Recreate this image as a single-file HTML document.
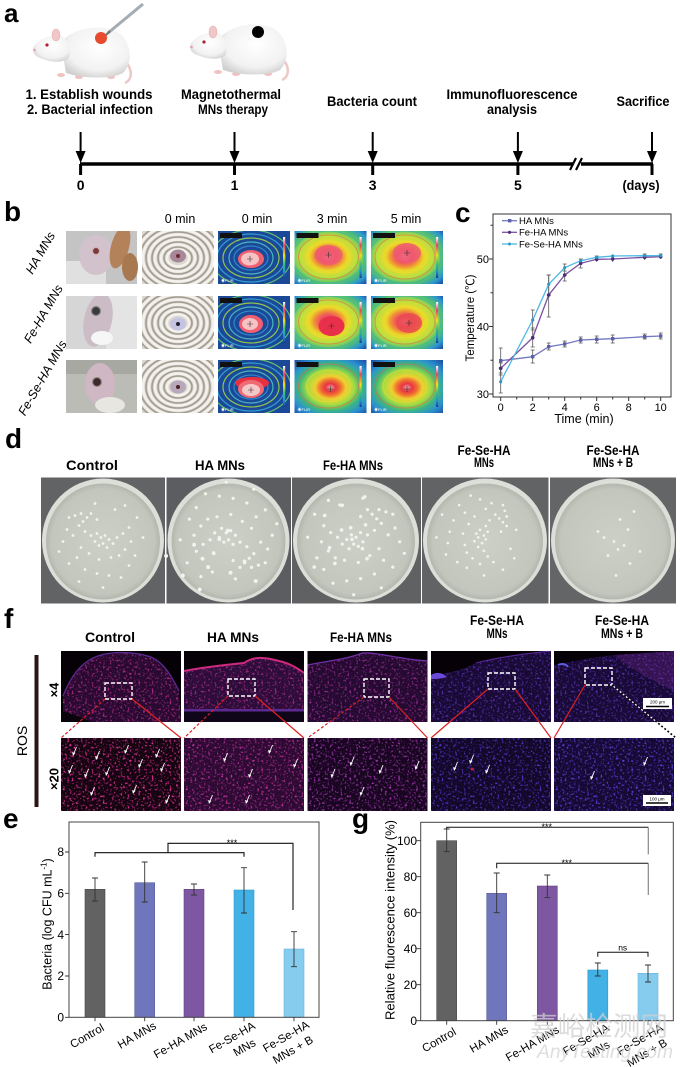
<!DOCTYPE html>
<html><head><meta charset="utf-8"><style>
html,body{margin:0;padding:0;background:#fff;}
svg{display:block;}
text{font-family:"Liberation Sans",Arial,"Noto Sans CJK SC",sans-serif;fill:#000;}
.n{font-weight:bold;font-size:14px;}
.L{font-weight:bold;}
</style></head><body>
<svg width="680" height="1067" viewBox="0 0 680 1067" xmlns="http://www.w3.org/2000/svg">
<defs>
<radialGradient id="ratg" cx="0.55" cy="0.4" r="0.65"><stop offset="0" stop-color="#ffffff"/><stop offset="0.7" stop-color="#f2f2f2"/><stop offset="1" stop-color="#cfcfcf"/></radialGradient>
<radialGradient id="hotA" cx="0.47" cy="0.48" r="0.72">
<stop offset="0" stop-color="#f6a4b2"/><stop offset="0.15" stop-color="#ee4a66"/><stop offset="0.26" stop-color="#f0883a"/><stop offset="0.37" stop-color="#ecd828"/><stop offset="0.55" stop-color="#b8e040"/><stop offset="0.72" stop-color="#52c070"/><stop offset="0.88" stop-color="#2c96d0"/><stop offset="1" stop-color="#1e52a8"/></radialGradient>
<radialGradient id="hotB" cx="0.5" cy="0.52" r="0.72">
<stop offset="0" stop-color="#f3a8a8"/><stop offset="0.1" stop-color="#e83444"/><stop offset="0.2" stop-color="#f07030"/><stop offset="0.3" stop-color="#f0d030"/><stop offset="0.45" stop-color="#a8dc40"/><stop offset="0.6" stop-color="#40b878"/><stop offset="0.78" stop-color="#2a90d0"/><stop offset="1" stop-color="#1c4aa0"/></radialGradient>
<linearGradient id="cbar" x1="0" y1="0" x2="0" y2="1"><stop offset="0" stop-color="#fff"/><stop offset="0.2" stop-color="#e84060"/><stop offset="0.45" stop-color="#f0e020"/><stop offset="0.65" stop-color="#40c070"/><stop offset="0.85" stop-color="#2090d0"/><stop offset="1" stop-color="#1a3a90"/></linearGradient>
<radialGradient id="plate" cx="0.5" cy="0.5" r="0.5"><stop offset="0" stop-color="#cdd0c6"/><stop offset="0.9" stop-color="#c3c6bc"/><stop offset="1" stop-color="#b4b7ae"/></radialGradient>
<filter id="spk" x="0" y="0" width="1" height="1">
<feTurbulence type="fractalNoise" baseFrequency="0.45" numOctaves="2" seed="4" result="nz"/>
<feColorMatrix in="nz" type="matrix" values="0 0 0 0 0  0 0 0 0 0  0 0 0 0 0  4 0 0 0 -2.15" result="al"/>
<feComposite in="SourceGraphic" in2="al" operator="in"/>
</filter>
<clipPath id="c4"><rect width="120" height="71"/></clipPath>
<clipPath id="c20"><rect width="120" height="73"/></clipPath>
<clipPath id="cth"><rect width="72" height="53"/></clipPath>
<g id="rat">
<path d="M86,32 C100,40 101,54 92,58" fill="none" stroke="#edc8c4" stroke-width="2.5"/>
<ellipse cx="28" cy="50" rx="4" ry="2" fill="#f0c2c2"/><ellipse cx="46" cy="52" rx="4" ry="2" fill="#f0c2c2"/><ellipse cx="78" cy="52" rx="4" ry="2" fill="#f0c2c2"/>
<path d="M28,18 C40,2 70,-2 86,8 C99,18 100,38 90,48 C80,54 50,54 33,48 Z" fill="url(#ratg)"/>
<path d="M0,24 C2,16 14,10 26,10 C34,12 38,22 36,32 C32,38 20,38 10,34 C4,32 0,30 0,24 Z" fill="url(#ratg)"/>
<ellipse cx="23" cy="10" rx="4" ry="6" fill="#f2c6c6" stroke="#e4b0b0" stroke-width="0.6"/>
<circle cx="14" cy="20" r="1.6" fill="#b02030"/>
<circle cx="1.5" cy="25" r="1.3" fill="#e8a0a8"/>
</g>
<g id="dA" fill="#f3f3ee">
<circle cx="-32" cy="-22" r="1.4"/><circle cx="-26" cy="-24" r="1.4"/><circle cx="-20" cy="-26" r="1.4"/><circle cx="-14" cy="-22" r="1.4"/><circle cx="-18" cy="-18" r="1.4"/><circle cx="-22" cy="-14" r="1.4"/><circle cx="-10" cy="-26" r="1.4"/><circle cx="-4" cy="-20" r="1.4"/><circle cx="-34" cy="-10" r="1.4"/><circle cx="-28" cy="-4" r="1.4"/><circle cx="-16" cy="-8" r="1.4"/><circle cx="-10" cy="-4" r="1.4"/><circle cx="-4" cy="-6" r="1.4"/><circle cx="0" cy="-2" r="1.4"/><circle cx="4" cy="-4" r="1.4"/><circle cx="8" cy="0" r="1.4"/><circle cx="-6" cy="2" r="1.4"/><circle cx="-2" cy="6" r="1.4"/><circle cx="2" cy="4" r="1.4"/><circle cx="6" cy="8" r="1.4"/><circle cx="12" cy="4" r="1.4"/><circle cx="16" cy="-2" r="1.4"/><circle cx="22" cy="-6" r="1.4"/><circle cx="28" cy="-12" r="1.4"/><circle cx="30" cy="2" r="1.4"/><circle cx="24" cy="10" r="1.4"/><circle cx="18" cy="16" r="1.4"/><circle cx="10" cy="18" r="1.4"/><circle cx="-2" cy="20" r="1.4"/><circle cx="-12" cy="14" r="1.4"/><circle cx="-20" cy="8" r="1.4"/><circle cx="-24" cy="18" r="1.4"/><circle cx="-32" cy="24" r="1.4"/><circle cx="-16" cy="30" r="1.4"/><circle cx="-4" cy="34" r="1.4"/><circle cx="8" cy="36" r="1.4"/><circle cx="28" cy="26" r="1.4"/><circle cx="36" cy="-22" r="1.4"/><circle cx="34" cy="16" r="1.4"/><circle cx="-38" cy="2" r="1.4"/><circle cx="20" cy="38" r="1.4"/><circle cx="2" cy="48" r="1.4"/><circle cx="-22" cy="42" r="1.4"/><circle cx="42" cy="-2" r="1.4"/><circle cx="-42" cy="12" r="1.4"/><circle cx="14" cy="-30" r="1.4"/><circle cx="24" cy="-34" r="1.4"/><circle cx="-6" cy="-36" r="1.4"/>
</g>
<g id="dB" fill="#f3f3ee">
<circle cx="10" cy="-20" r="1.4"/><circle cx="18" cy="-10" r="1.4"/><circle cx="-6" cy="-2" r="1.4"/><circle cx="4" cy="2" r="1.4"/><circle cx="8" cy="10" r="1.4"/><circle cx="14" cy="6" r="1.4"/><circle cx="-2" cy="16" r="1.4"/><circle cx="20" cy="24" r="1.4"/><circle cx="6" cy="36" r="1.4"/><circle cx="24" cy="-28" r="1.4"/><circle cx="30" cy="12" r="1.4"/><circle cx="-12" cy="-8" r="1.4"/>
</g>
<g id="arw"><line x1="3.5" y1="-9" x2="0.3" y2="-1" stroke="#fff" stroke-width="0.9"/><path d="M0,0 L-0.9,-4 L2.2,-3 Z" fill="#fff"/></g>
<g id="coil" fill="none">
<rect width="71" height="53" fill="#dcd8d0"/>
<g stroke="#a39d91" stroke-width="1.6">
<ellipse cx="36" cy="27" rx="14" ry="11"/><ellipse cx="36" cy="27" rx="20" ry="16"/><ellipse cx="36" cy="27" rx="26" ry="21"/><ellipse cx="36" cy="27" rx="32" ry="26"/><ellipse cx="36" cy="27" rx="38" ry="31"/><ellipse cx="36" cy="27" rx="44" ry="36"/></g>
<g stroke="#f4f2ee" stroke-width="2.4">
<ellipse cx="36" cy="27" rx="11" ry="8.5"/><ellipse cx="36" cy="27" rx="17" ry="13.5"/><ellipse cx="36" cy="27" rx="23" ry="18.5"/><ellipse cx="36" cy="27" rx="29" ry="23.5"/><ellipse cx="36" cy="27" rx="35" ry="28.5"/><ellipse cx="36" cy="27" rx="41" ry="33.5"/></g>
</g>
<g id="cold">
<rect width="72" height="53" fill="#1c4898"/>
<g fill="none" stroke-width="1.2">
<ellipse cx="33" cy="27" rx="17" ry="12" stroke="#2d88c8"/>
<ellipse cx="33" cy="27" rx="22" ry="16" stroke="#48b8c0"/>
<ellipse cx="33" cy="27" rx="28" ry="20" stroke="#8cc850"/>
<ellipse cx="33" cy="27" rx="34" ry="24" stroke="#30a0d0"/>
<ellipse cx="33" cy="27" rx="40" ry="28" stroke="#60c070"/>
</g>
<rect x="65" y="6" width="2.2" height="41" fill="url(#cbar)"/>
<rect x="2" y="2" width="22" height="5" fill="#111"/>
<text x="3" y="51" font-size="4" style="fill:#fff">◉FLIR</text>
</g>
<g id="hotdeco">
<g fill="none" stroke-width="1" opacity="0.55"><ellipse cx="34" cy="26" rx="22" ry="16" stroke="#f0e030"/><ellipse cx="34" cy="26" rx="30" ry="22" stroke="#f06040"/><ellipse cx="34" cy="26" rx="36" ry="26" stroke="#30a8c8"/></g>
<rect x="65" y="6" width="2.2" height="41" fill="url(#cbar)"/>
<rect x="2" y="2" width="22" height="5" fill="#111"/>
<text x="3" y="51" font-size="4" style="fill:#fff">◉FLIR</text>
</g>
</defs>

<rect width="680" height="1067" fill="#fff"/>

<!-- ===== Panel a ===== -->
<text x="4" y="22" class="L" font-size="26">a</text>
<use href="#rat" x="33" y="25"/>
<use href="#rat" x="190" y="22"/>
<line x1="108" y1="33" x2="143" y2="4" stroke="#a4acb4" stroke-width="3"/>
<line x1="104" y1="37" x2="110" y2="31" stroke="#6d737a" stroke-width="2"/>
<circle cx="101" cy="38" r="6" fill="#e84a2e"/>
<circle cx="258" cy="32" r="6" fill="#000"/>

<text x="89" y="99" class="n" text-anchor="middle" textLength="127" lengthAdjust="spacingAndGlyphs">1. Establish wounds</text>
<text x="90" y="114" class="n" text-anchor="middle" textLength="126" lengthAdjust="spacingAndGlyphs">2. Bacterial infection</text>
<text x="231" y="99" class="n" text-anchor="middle" textLength="100" lengthAdjust="spacingAndGlyphs">Magnetothermal</text>
<text x="233" y="114" class="n" text-anchor="middle" textLength="70" lengthAdjust="spacingAndGlyphs">MNs therapy</text>
<text x="372" y="106" class="n" text-anchor="middle" textLength="90" lengthAdjust="spacingAndGlyphs">Bacteria count</text>
<text x="512" y="99" class="n" text-anchor="middle" textLength="131" lengthAdjust="spacingAndGlyphs">Immunofluorescence</text>
<text x="512" y="114" class="n" text-anchor="middle" textLength="50" lengthAdjust="spacingAndGlyphs">analysis</text>
<text x="643" y="106" class="n" text-anchor="middle" textLength="53" lengthAdjust="spacingAndGlyphs">Sacrifice</text>

<line x1="80" y1="164" x2="653" y2="164" stroke="#000" stroke-width="3.5"/>
<g stroke="#000">
<line x1="80.6" y1="132" x2="80.6" y2="153" stroke-width="2"/><line x1="80.6" y1="164" x2="80.6" y2="175" stroke-width="3"/>
<line x1="234.5" y1="132" x2="234.5" y2="153" stroke-width="2"/><line x1="234.5" y1="164" x2="234.5" y2="175" stroke-width="3"/>
<line x1="372.7" y1="132" x2="372.7" y2="153" stroke-width="2"/><line x1="372.7" y1="164" x2="372.7" y2="175" stroke-width="3"/>
<line x1="517.9" y1="132" x2="517.9" y2="153" stroke-width="2"/><line x1="517.9" y1="164" x2="517.9" y2="175" stroke-width="3"/>
<line x1="652" y1="132" x2="652" y2="153" stroke-width="2"/><line x1="652" y1="164" x2="652" y2="175" stroke-width="3"/>
</g>
<g fill="#000">
<polygon points="75.6,151 85.6,151 80.6,163"/>
<polygon points="229.5,151 239.5,151 234.5,163"/>
<polygon points="367.7,151 377.7,151 372.7,163"/>
<polygon points="512.9,151 522.9,151 517.9,163"/>
<polygon points="647,151 657,151 652,163"/>
</g>
<rect x="573" y="160" width="8" height="8" fill="#fff"/>
<line x1="570" y1="170" x2="576" y2="158" stroke="#000" stroke-width="2.2"/>
<line x1="576" y1="170" x2="582" y2="158" stroke="#000" stroke-width="2.2"/>
<g class="n" font-size="13" text-anchor="middle">
<text x="80.6" y="190" class="n">0</text><text x="234.5" y="190" class="n">1</text><text x="372.7" y="190" class="n">3</text><text x="517.9" y="190" class="n">5</text>
<text x="641" y="190" class="n" textLength="37" lengthAdjust="spacingAndGlyphs">(days)</text>
</g>

<!-- ===== Panel b ===== -->
<text x="4" y="221" class="L" font-size="28">b</text>
<g font-size="12.5" text-anchor="middle">
<text x="180" y="223">0 min</text><text x="257" y="223">0 min</text><text x="332" y="223">3 min</text><text x="406" y="223">5 min</text>
</g>
<g font-size="12.5" font-style="italic" text-anchor="middle">
<text transform="translate(44,255) rotate(-60)">HA MNs</text>
<text transform="translate(47,316) rotate(-60)">Fe-HA MNs</text>
<text transform="translate(46,380) rotate(-60)">Fe-Se-HA MNs</text>
</g>
<!-- photos col1 -->
<g transform="translate(66,231)" clip-path="url(#cth)">
<rect width="71" height="53" fill="#c4c4c4"/>
<rect x="0" y="30" width="40" height="23" fill="#e0e0e0"/>
<ellipse cx="30" cy="24" rx="17" ry="20" fill="#d2c2cc"/>
<circle cx="30" cy="20" r="3.5" fill="#7a3a40" stroke="#d8b0b0" stroke-width="1"/>
<ellipse cx="54" cy="16" rx="9" ry="22" fill="#b4825a" transform="rotate(15 54 16)"/>
<ellipse cx="64" cy="36" rx="8" ry="14" fill="#a87850"/>
</g>
<g transform="translate(66,296)" clip-path="url(#cth)">
<rect width="71" height="53" fill="#d6d6d6"/>
<rect x="40" y="0" width="31" height="53" fill="#e4e4e4"/>
<ellipse cx="32" cy="24" rx="14" ry="27" fill="#cbbcc6" transform="rotate(12 32 24)"/>
<circle cx="30" cy="15" r="4.5" fill="#3a3a3a" stroke="#8a8a8a" stroke-width="1.2"/>
<ellipse cx="36" cy="42" rx="11" ry="7" fill="#f6f6f6"/>
</g>
<g transform="translate(66,360)" clip-path="url(#cth)">
<rect width="71" height="53" fill="#bcbcb6"/>
<rect x="0" y="0" width="71" height="14" fill="#a8a8a2"/>
<ellipse cx="34" cy="24" rx="15" ry="21" fill="#cfb7c4"/>
<circle cx="31" cy="22" r="4.5" fill="#3a2a2a" stroke="#9a8a8a" stroke-width="1.2"/>
<ellipse cx="44" cy="45" rx="15" ry="8" fill="#e8e6e0"/>
</g>
<!-- coil col2 -->
<g transform="translate(142,231)" clip-path="url(#cth)"><use href="#coil"/><ellipse cx="36" cy="25" rx="8" ry="6.5" fill="#a88898"/><circle cx="36" cy="25" r="2" fill="#6a2a30"/></g>
<g transform="translate(142,296)" clip-path="url(#cth)"><use href="#coil"/><ellipse cx="36" cy="28" rx="8" ry="6.5" fill="#c4c4e2"/><circle cx="36" cy="28" r="2" fill="#202030"/></g>
<g transform="translate(142,360)" clip-path="url(#cth)"><use href="#coil"/><ellipse cx="36" cy="27" rx="8" ry="6.5" fill="#b8a8bc"/><circle cx="36" cy="27" r="2" fill="#4a2020"/></g>
<!-- thermal 0 min -->
<g transform="translate(218,231)" clip-path="url(#cth)"><use href="#cold"/><ellipse cx="33" cy="28" rx="13" ry="9" fill="#ee6070"/><ellipse cx="32" cy="28" rx="9" ry="6.5" fill="#f7c2c4"/><path d="M29,28 H35 M32,25 V31" stroke="#333" stroke-width="0.6"/></g>
<g transform="translate(218,296)" clip-path="url(#cth)"><use href="#cold"/><ellipse cx="33" cy="28" rx="12" ry="9" fill="#ee6070"/><ellipse cx="32" cy="28" rx="8" ry="6" fill="#f7c2c4"/><path d="M29,28 H35 M32,25 V31" stroke="#333" stroke-width="0.6"/></g>
<g transform="translate(218,360)" clip-path="url(#cth)"><use href="#cold"/><ellipse cx="34" cy="23" rx="17" ry="6" fill="#e83040"/><ellipse cx="33" cy="29" rx="13" ry="9" fill="#ef6a74"/><ellipse cx="33" cy="30" rx="9" ry="6" fill="#f7c8c8"/><path d="M30,30 H36 M33,27 V33" stroke="#333" stroke-width="0.6"/></g>
<!-- thermal 3/5 min -->
<g transform="translate(294.5,231)" clip-path="url(#cth)"><rect width="72" height="53" fill="url(#hotA)"/><use href="#hotdeco"/><ellipse cx="34" cy="24" rx="14" ry="10" fill="#ee5a72" opacity="0.85"/><path d="M31,24 H37 M34,21 V27" stroke="#333" stroke-width="0.6"/></g>
<g transform="translate(371,231)" clip-path="url(#cth)"><rect width="72" height="53" fill="url(#hotA)"/><use href="#hotdeco"/><ellipse cx="36" cy="22" rx="14" ry="10" fill="#ee5a72" opacity="0.85"/><path d="M33,22 H39 M36,19 V25" stroke="#333" stroke-width="0.6"/></g>
<g transform="translate(294.5,296)" clip-path="url(#cth)"><rect width="72" height="53" fill="url(#hotA)"/><use href="#hotdeco"/><ellipse cx="37" cy="30" rx="13" ry="10" fill="#e8304a"/><path d="M34,30 H40 M37,27 V33" stroke="#333" stroke-width="0.6"/></g>
<g transform="translate(371,296)" clip-path="url(#cth)"><rect width="72" height="53" fill="url(#hotA)"/><use href="#hotdeco"/><ellipse cx="38" cy="27" rx="13" ry="10" fill="#ea4a50" opacity="0.85"/><path d="M35,27 H41 M38,24 V30" stroke="#333" stroke-width="0.6"/></g>
<g transform="translate(294.5,360)" clip-path="url(#cth)"><rect width="72" height="53" fill="url(#hotB)"/><use href="#hotdeco"/><path d="M33,29 H39 M36,26 V32" stroke="#333" stroke-width="0.6"/></g>
<g transform="translate(371,360)" clip-path="url(#cth)"><rect width="72" height="53" fill="url(#hotB)"/><use href="#hotdeco"/><path d="M33,29 H39 M36,26 V32" stroke="#333" stroke-width="0.6"/></g>

<!-- ===== Panel c ===== -->
<text x="455" y="222" class="L" font-size="28">c</text>
<rect x="493" y="214" width="178" height="183" fill="none" stroke="#333" stroke-width="1"/>
<g stroke="#333" stroke-width="1">
<path d="M493,394 h-4 M493,326.5 h-4 M493,259 h-4 M493,360.25 h-2.5 M493,292.75 h-2.5 M493,225.25 h-2.5"/>
<path d="M500.7,397 v4 M532.7,397 v4 M564.7,397 v4 M596.7,397 v4 M628.7,397 v4 M660.7,397 v4 M516.7,397 v2.5 M548.7,397 v2.5 M580.7,397 v2.5 M612.7,397 v2.5 M644.7,397 v2.5"/>
</g>
<g font-size="11" text-anchor="end"><text x="489" y="398">30</text><text x="489" y="330.5">40</text><text x="489" y="263">50</text></g>
<g font-size="11" text-anchor="middle"><text x="500.7" y="411">0</text><text x="532.7" y="411">2</text><text x="564.7" y="411">4</text><text x="596.7" y="411">6</text><text x="628.7" y="411">8</text><text x="660.7" y="411">10</text></g>
<text x="584" y="423" font-size="12.5" text-anchor="middle">Time (min)</text>
<text transform="translate(474,318) rotate(-90)" font-size="11.5" text-anchor="middle" font-family="Liberation Sans, DejaVu Sans, sans-serif">Temperature (℃)</text>
<!-- error bars -->
<g stroke="#555" stroke-width="0.8" fill="none">
<path d="M500.7,348V373M498.7,348h4M498.7,373h4 M532.7,350V363M530.7,350h4M530.7,363h4 M548.7,343V350M546.7,343h4M546.7,350h4 M564.7,341V347M562.7,341h4M562.7,347h4 M580.7,337V343M578.7,337h4M578.7,343h4 M596.7,336V343M594.7,336h4M594.7,343h4 M612.7,335V343M610.7,335h4M610.7,343h4 M644.7,334V339M642.7,334h4M642.7,339h4 M660.7,333V339M658.7,333h4M658.7,339h4"/>
<path d="M500.7,363V375M498.7,363h4M498.7,375h4 M532.7,328V347M530.7,328h4M530.7,347h4 M548.7,275V317M546.7,275h4M546.7,317h4 M564.7,271V281M562.7,271h4M562.7,281h4 M580.7,259V268M578.7,259h4M578.7,268h4 M596.7,256V262M594.7,256h4 M612.7,256V262M610.7,256h4 M644.7,254V260M642.7,254h4 M660.7,254V259M658.7,254h4"/>
<path d="M500.7,368V393M498.7,368h4M498.7,393h4 M532.7,310V330M530.7,310h4M530.7,330h4 M548.7,275V295M546.7,275h4M546.7,295h4 M564.7,264V271M562.7,264h4"/>
</g>
<polyline fill="none" stroke="#7478c0" stroke-width="1.3" points="500.7,360.7 532.7,356.7 548.7,346.7 564.7,344 580.7,340 596.7,339.3 612.7,338.7 644.7,336.7 660.7,336"/>
<polyline fill="none" stroke="#7d4fa0" stroke-width="1.3" points="500.7,368.3 532.7,337.7 548.7,295 564.7,275 580.7,263.3 596.7,259.3 612.7,259 644.7,257.3 660.7,256.7"/>
<polyline fill="none" stroke="#4cb8e4" stroke-width="1.3" points="500.7,381.7 532.7,320 548.7,284.3 564.7,267.7 580.7,260.7 596.7,257.3 612.7,256 644.7,255.7 660.7,255.7"/>
<g fill="#5b5fa8"><rect x="499" y="359" width="3.4" height="3.4"/><rect x="531" y="355" width="3.4" height="3.4"/><rect x="547" y="345" width="3.4" height="3.4"/><rect x="563" y="342.3" width="3.4" height="3.4"/><rect x="579" y="338.3" width="3.4" height="3.4"/><rect x="595" y="337.6" width="3.4" height="3.4"/><rect x="611" y="337" width="3.4" height="3.4"/><rect x="643" y="335" width="3.4" height="3.4"/><rect x="659" y="334.3" width="3.4" height="3.4"/></g>
<g fill="#4a2d75"><circle cx="500.7" cy="368.3" r="1.8"/><circle cx="532.7" cy="337.7" r="1.8"/><circle cx="548.7" cy="295" r="1.8"/><circle cx="564.7" cy="275" r="1.8"/><circle cx="580.7" cy="263.3" r="1.8"/><circle cx="596.7" cy="259.3" r="1.8"/><circle cx="612.7" cy="259" r="1.8"/><circle cx="644.7" cy="257.3" r="1.8"/><circle cx="660.7" cy="256.7" r="1.8"/></g>
<g fill="#2a98c8"><circle cx="500.7" cy="381.7" r="1.6"/><circle cx="532.7" cy="320" r="1.6"/><circle cx="548.7" cy="284.3" r="1.6"/><circle cx="564.7" cy="267.7" r="1.6"/><circle cx="580.7" cy="260.7" r="1.6"/><circle cx="596.7" cy="257.3" r="1.6"/><circle cx="612.7" cy="256" r="1.6"/><circle cx="644.7" cy="255.7" r="1.6"/><circle cx="660.7" cy="255.7" r="1.6"/></g>
<!-- legend -->
<line x1="502" y1="220.7" x2="517" y2="220.7" stroke="#7478c0" stroke-width="1.3"/><rect x="508" y="219" width="3.4" height="3.4" fill="#5b5fa8"/>
<line x1="502" y1="232.3" x2="517" y2="232.3" stroke="#7d4fa0" stroke-width="1.3"/><circle cx="509.5" cy="232.3" r="1.6" fill="#4a2d75"/>
<line x1="502" y1="244" x2="517" y2="244" stroke="#4cb8e4" stroke-width="1.3"/><circle cx="509.5" cy="244" r="1.5" fill="#2a98c8"/>
<g font-size="9.5"><text x="519" y="224">HA MNs</text><text x="519" y="235.5">Fe-HA MNs</text><text x="519" y="247.3">Fe-Se-HA MNs</text></g>

<!-- ===== Panel d ===== -->
<text x="5" y="448" class="L" font-size="28">d</text>
<g class="n" font-size="13.5" text-anchor="middle">
<text x="92" y="470" class="n" textLength="52" lengthAdjust="spacingAndGlyphs">Control</text>
<text x="220" y="470" class="n" textLength="50" lengthAdjust="spacingAndGlyphs">HA MNs</text>
<text x="353" y="470" class="n" textLength="60" lengthAdjust="spacingAndGlyphs">Fe-HA MNs</text>
<text x="484" y="455" class="n" textLength="53" lengthAdjust="spacingAndGlyphs">Fe-Se-HA</text>
<text x="484" y="467" class="n" textLength="20" lengthAdjust="spacingAndGlyphs">MNs</text>
<text x="613" y="455" class="n" textLength="53" lengthAdjust="spacingAndGlyphs">Fe-Se-HA</text>
<text x="613" y="467" class="n" textLength="40" lengthAdjust="spacingAndGlyphs">MNs + B</text>
</g>
<g transform="translate(41,477.5)">
<rect width="124" height="126" fill="#626365"/>
<ellipse cx="62" cy="63" rx="61" ry="62" fill="#dcdfd8"/><ellipse cx="62" cy="64" rx="57" ry="58" fill="url(#plate)"/>
<use href="#dA" transform="translate(60,62)"/>
</g>
<g transform="translate(166.5,477.5)">
<rect width="124.5" height="126" fill="#5c5d60"/>
<ellipse cx="62" cy="63" rx="61" ry="62" fill="#dcdfd8"/><ellipse cx="62" cy="64" rx="57" ry="58" fill="url(#plate)"/>
<use href="#dA" transform="translate(62,60) rotate(180) scale(1.15)"/>
<use href="#dB" transform="translate(50,70) rotate(90) scale(1.4)"/>
</g>
<g transform="translate(292,477.5)">
<rect width="129" height="126" fill="#606163"/>
<ellipse cx="64" cy="63" rx="63" ry="62" fill="#dcdfd8"/><ellipse cx="64" cy="64" rx="59" ry="58" fill="url(#plate)"/>
<use href="#dA" transform="translate(64,62) scale(-1.15,1.15)"/>
<use href="#dB" transform="translate(64,66) rotate(200) scale(1.3)"/>
</g>
<g transform="translate(422,477.5)">
<rect width="126.5" height="126" fill="#626365"/>
<ellipse cx="63" cy="63" rx="62" ry="62" fill="#dcdfd8"/><ellipse cx="63" cy="64" rx="58" ry="58" fill="url(#plate)"/>
<use href="#dA" transform="translate(60,58) rotate(90) scale(0.95)"/>
</g>
<g transform="translate(550,477.5)">
<rect width="126" height="126" fill="#646567"/>
<ellipse cx="63" cy="63" rx="62" ry="62" fill="#dcdfd8"/><ellipse cx="63" cy="64" rx="58" ry="58" fill="url(#plate)"/>
<use href="#dB" transform="translate(60,62)"/>
</g>

<!-- ===== Panel f ===== -->
<text x="4" y="628" class="L" font-size="28">f</text>
<g class="n" font-size="13.5" text-anchor="middle">
<text x="110" y="642" class="n" textLength="50" lengthAdjust="spacingAndGlyphs">Control</text>
<text x="233" y="642" class="n" textLength="52" lengthAdjust="spacingAndGlyphs">HA MNs</text>
<text x="361" y="642" class="n" textLength="62" lengthAdjust="spacingAndGlyphs">Fe-HA MNs</text>
<text x="497" y="625" class="n" textLength="54" lengthAdjust="spacingAndGlyphs">Fe-Se-HA</text>
<text x="497" y="638" class="n" textLength="21" lengthAdjust="spacingAndGlyphs">MNs</text>
<text x="622" y="625" class="n" textLength="54" lengthAdjust="spacingAndGlyphs">Fe-Se-HA</text>
<text x="622" y="638" class="n" textLength="42" lengthAdjust="spacingAndGlyphs">MNs + B</text>
</g>
<rect x="34.5" y="655" width="4" height="152" fill="#2a1616"/>
<text transform="translate(27,741) rotate(-90)" font-size="14" text-anchor="middle">ROS</text>
<text transform="translate(58.5,690) rotate(-90)" class="L" font-size="13" text-anchor="middle">×4</text>
<text transform="translate(58.5,779) rotate(-90)" class="L" font-size="13" text-anchor="middle">×20</text>

<!-- x4 images -->
<g transform="translate(61,651)" clip-path="url(#c4)">
<rect width="120" height="71" fill="#060106"/>
<path d="M2,71 L2,45 C8,30 18,10 40,4 C55,0 75,1 90,6 C104,12 112,28 118,40 L120,71 Z" fill="#280a30"/>
<path d="M2,71 L2,45 C8,30 18,10 40,4 C55,0 75,1 90,6 C104,12 112,28 118,40 L120,71 Z" fill="#b02c88" filter="url(#spk)"/>
<path d="M2,45 C8,30 18,10 40,4 C55,0 75,1 90,6 C104,12 112,28 118,40" fill="none" stroke="#5a2a90" stroke-width="1.3"/>
<path d="M0,71 L0,60 C10,62 20,66 30,71 Z" fill="#0a040c"/>
</g>
<g transform="translate(184,651)" clip-path="url(#c4)">
<rect width="120" height="71" fill="#060106"/>
<path d="M0,20 C20,16 40,14 60,12 C70,5 80,6 95,10 C105,12 115,18 120,22 L120,60 L0,60 Z" fill="#2c0c38"/>
<path d="M0,20 C20,16 40,14 60,12 C70,5 80,6 95,10 C105,12 115,18 120,22 L120,60 L0,60 Z" fill="#a82c88" filter="url(#spk)"/>
<path d="M0,20 C20,16 40,14 60,12 C70,5 80,6 95,10 C105,12 115,18 120,22" fill="none" stroke="#d02a80" stroke-width="2"/>
<rect x="0" y="58" width="120" height="2.5" fill="#5a2a90"/>
<rect x="0" y="60.5" width="120" height="10.5" fill="#10061a"/>
</g>
<g transform="translate(307.5,651)" clip-path="url(#c4)">
<rect width="120" height="71" fill="#060106"/>
<path d="M0,14 C20,10 40,8 55,2 C70,1 90,8 120,10 L120,71 L0,71 Z" fill="#240a30"/>
<path d="M0,14 C20,10 40,8 55,2 C70,1 90,8 120,10 L120,71 L0,71 Z" fill="#962c90" filter="url(#spk)"/>
<path d="M0,14 C20,10 40,8 55,2 C70,1 90,8 120,10" fill="none" stroke="#7030a8" stroke-width="1.3"/>
</g>
<g transform="translate(431,651)" clip-path="url(#c4)">
<rect width="120" height="71" fill="#060106"/>
<path d="M0,25 C15,22 30,20 45,12 C60,8 80,4 120,0 L120,71 L0,71 Z" fill="#180a34"/>
<path d="M0,25 C15,22 30,20 45,12 C60,8 80,4 120,0 L120,71 L0,71 Z" fill="#5a30b0" filter="url(#spk)"/>
<path d="M0,24 C6,20 12,22 16,26 C10,28 4,28 0,28 Z" fill="#6a48d8"/>
<path d="M45,12 C60,8 80,4 120,0" fill="none" stroke="#5a2a98" stroke-width="1.1"/>
</g>
<g transform="translate(554,651)" clip-path="url(#c4)">
<rect width="120" height="71" fill="#060106"/>
<path d="M0,14 C20,10 40,6 60,4 L120,0 L120,71 L0,71 Z" fill="#180a36"/>
<path d="M0,14 C20,10 40,6 60,4 L120,0 L120,71 L0,71 Z" fill="#5a30b0" filter="url(#spk)"/>
<path d="M60,4 L120,0 L120,40 C100,30 80,20 60,4 Z" fill="#7a2a90" opacity="0.3"/>
<path d="M4,14 C8,12 12,13 14,16" fill="none" stroke="#5a5ae0" stroke-width="2"/>
<rect x="89" y="47" width="29" height="11" fill="#fff"/>
<line x1="92" y1="55.5" x2="115" y2="55.5" stroke="#000" stroke-width="1.6"/>
<text x="103.5" y="52.5" font-size="4.5" text-anchor="middle">200 μm</text>
</g>
<!-- x20 images -->
<g transform="translate(61,738)" clip-path="url(#c20)">
<rect width="120" height="73" fill="#14040f"/>
<rect width="120" height="73" fill="#e0309a" filter="url(#spk)"/>
<use href="#arw" x="12" y="18"/><use href="#arw" x="35" y="22"/><use href="#arw" x="64" y="16"/><use href="#arw" x="95" y="20"/><use href="#arw" x="8" y="36"/><use href="#arw" x="24" y="40"/><use href="#arw" x="45" y="38"/><use href="#arw" x="78" y="30"/><use href="#arw" x="100" y="34"/><use href="#arw" x="30" y="58"/><use href="#arw" x="72" y="56"/><use href="#arw" x="105" y="66"/>
</g>
<g transform="translate(184,738)" clip-path="url(#c20)">
<rect width="120" height="73" fill="#2c0a32"/>
<rect width="120" height="73" fill="#b8309a" filter="url(#spk)"/>
<use href="#arw" x="40" y="24"/><use href="#arw" x="85" y="16"/><use href="#arw" x="110" y="30"/><use href="#arw" x="65" y="40"/><use href="#arw" x="25" y="66"/><use href="#arw" x="62" y="66"/>
</g>
<g transform="translate(307.5,738)" clip-path="url(#c20)">
<rect width="120" height="73" fill="#180620"/>
<rect width="120" height="73" fill="#a034b0" filter="url(#spk)"/>
<use href="#arw" x="43" y="28"/><use href="#arw" x="24" y="40"/><use href="#arw" x="72" y="36"/><use href="#arw" x="108" y="32"/><use href="#arw" x="53" y="58"/>
</g>
<g transform="translate(431,738)" clip-path="url(#c20)">
<rect width="120" height="73" fill="#120828"/>
<rect width="120" height="73" fill="#5634c8" filter="url(#spk)"/>
<use href="#arw" x="23" y="33"/><use href="#arw" x="39" y="26"/><use href="#arw" x="55" y="36"/>
<circle cx="41" cy="31" r="1.5" fill="#c02040"/>
</g>
<g transform="translate(554,738)" clip-path="url(#c20)">
<rect width="120" height="73" fill="#160a34"/>
<rect width="120" height="73" fill="#5a3ed8" filter="url(#spk)"/>
<use href="#arw" x="37" y="42"/><use href="#arw" x="90" y="28"/>
<rect x="89" y="57" width="28" height="11" fill="#fff"/>
<line x1="92" y1="65" x2="114" y2="65" stroke="#000" stroke-width="1.5"/>
<text x="103" y="62.5" font-size="4.5" text-anchor="middle">100 μm</text>
</g>
<!-- dashed boxes -->
<g fill="none" stroke="#fff" stroke-width="1.4" stroke-dasharray="4 2">
<rect x="105" y="683" width="27" height="16"/>
<rect x="228" y="679" width="27" height="17"/>
<rect x="364" y="679" width="25" height="18"/>
<rect x="488" y="673" width="27" height="16"/>
<rect x="585" y="668" width="27" height="17"/>
</g>
<!-- connector lines -->
<g stroke="#e02020" stroke-width="1.2" fill="none">
<line x1="105" y1="699" x2="61" y2="738" stroke-dasharray="3 2"/><line x1="132" y1="699" x2="181" y2="738"/>
<line x1="228" y1="696" x2="184" y2="738" stroke-dasharray="3 2"/><line x1="255" y1="696" x2="304" y2="738"/>
<line x1="364" y1="697" x2="307.5" y2="738" stroke-dasharray="3 2"/><line x1="389" y1="697" x2="427.5" y2="738"/>
<line x1="488" y1="689" x2="431" y2="738"/><line x1="515" y1="689" x2="551" y2="738"/>
<line x1="585" y1="685" x2="554" y2="738"/>
</g>
<line x1="612" y1="685" x2="676" y2="738" stroke="#000" stroke-width="1.6" stroke-dasharray="2 2"/>
<line x1="612" y1="685" x2="676" y2="738" stroke="#fff" stroke-width="1.2" stroke-dasharray="2 2" stroke-dashoffset="2"/>

<!-- ===== Panel e ===== -->
<text x="3" y="828" class="L" font-size="28">e</text>
<g>
<rect x="85" y="889.3" width="20" height="128" fill="#626262" stroke="#4a4a4a" stroke-width="0.6"/>
<rect x="134.7" y="882.7" width="20" height="134.6" fill="#6f76bb" stroke="#5a60a0" stroke-width="0.6"/>
<rect x="184" y="889.3" width="20" height="128" fill="#7e57a2" stroke="#664488" stroke-width="0.6"/>
<rect x="234" y="890" width="20" height="127.3" fill="#42b2e6" stroke="#3398c8" stroke-width="0.6"/>
<rect x="284" y="949" width="20" height="68.3" fill="#85ccef" stroke="#6ab4d8" stroke-width="0.6"/>
</g>
<rect x="69" y="822" width="250" height="195.3" fill="none" stroke="#444" stroke-width="1"/>
<g stroke="#333" stroke-width="0.9" fill="none">
<path d="M95,878V901M92,878h6M92,901h6"/>
<path d="M144.7,862V902M141.7,862h6M141.7,902h6"/>
<path d="M194,884V895M191,884h6M191,895h6"/>
<path d="M244,867.7V913M241,867.7h6M241,913h6"/>
<path d="M294,931.7V966.7M291,931.7h6M291,966.7h6"/>
<path d="M69,1017.3h-4M69,976h-4M69,934.6h-4M69,893.3h-4M69,852h-4"/>
<path d="M95,1017.3v4M144.7,1017.3v4M194,1017.3v4M244,1017.3v4M294,1017.3v4"/>
</g>
<g stroke="#111" stroke-width="1.1" fill="none">
<path d="M95,856.7V852.7H244V856.7"/>
<path d="M168,852.7V843.3H293V910"/>
</g>
<text x="232" y="846" font-size="9" text-anchor="middle">***</text>
<g font-size="12" text-anchor="end"><text x="64" y="1021.5">0</text><text x="64" y="980.2">2</text><text x="64" y="938.8">4</text><text x="64" y="897.5">6</text><text x="64" y="856.2">8</text></g>
<text transform="translate(51.5,924) rotate(-90)" font-size="12.5" text-anchor="middle">Bacteria (log CFU mL<tspan font-size="8" dy="-5">-1</tspan><tspan dy="5">)</tspan></text>
<g font-size="11.5" text-anchor="end">
<text transform="translate(105,1030) rotate(-30)">Control</text>
<text transform="translate(157,1028) rotate(-30)">HA MNs</text>
<text transform="translate(208,1029) rotate(-30)">Fe-HA MNs</text>
<g transform="translate(256,1028) rotate(-30)"><text>Fe-Se-HA</text><text x="-8" y="15">MNs</text></g>
<g transform="translate(310,1027) rotate(-30)"><text>Fe-Se-HA</text><text x="-4" y="15">MNs + B</text></g>
</g>

<!-- ===== Panel g ===== -->
<text x="352" y="828" class="L" font-size="28">g</text>
<g>
<rect x="436.7" y="840.7" width="20" height="180" fill="#626262" stroke="#4a4a4a" stroke-width="0.6"/>
<rect x="486.7" y="893.3" width="20" height="127.4" fill="#6f76bb" stroke="#5a60a0" stroke-width="0.6"/>
<rect x="537.3" y="886" width="20" height="134.7" fill="#7e57a2" stroke="#664488" stroke-width="0.6"/>
<rect x="587.8" y="970" width="20" height="50.7" fill="#42b2e6" stroke="#3398c8" stroke-width="0.6"/>
<rect x="638" y="973.3" width="20" height="47.4" fill="#85ccef" stroke="#6ab4d8" stroke-width="0.6"/>
</g>
<rect x="420.7" y="822.3" width="252.6" height="198.4" fill="none" stroke="#444" stroke-width="1"/>
<g stroke="#333" stroke-width="0.9" fill="none">
<path d="M446.7,829V851.7M443.7,829h6M443.7,851.7h6"/>
<path d="M496.7,873V912.7M493.7,873h6M493.7,912.7h6"/>
<path d="M547.3,875V897.7M544.3,875h6M544.3,897.7h6"/>
<path d="M597.8,963V976M594.8,963h6M594.8,976h6"/>
<path d="M648,965V982M645,965h6M645,982h6"/>
<path d="M420.7,1020.7h-4M420.7,984.7h-4M420.7,948.7h-4M420.7,912.7h-4M420.7,876.7h-4M420.7,840.7h-4"/>
<path d="M446.7,1020.7v4M496.7,1020.7v4M547.3,1020.7v4M597.8,1020.7v4M648,1020.7v4"/>
</g>
<g stroke="#111" stroke-width="1" fill="none">
<path d="M446.7,829V827.3H648.3"/>
<path d="M496.7,868.3V863.3H648.3"/>
<path d="M597.8,956.7V952.3H648V956.7"/>
</g>
<g stroke="#888" stroke-width="1.2"><line x1="648.3" y1="827.3" x2="648.3" y2="854.3"/><line x1="648.3" y1="863.3" x2="648.3" y2="895"/></g>
<text x="546.7" y="830" font-size="9" text-anchor="middle">***</text>
<text x="566.7" y="866" font-size="9" text-anchor="middle">***</text>
<text x="622.7" y="950.5" font-size="8.5" text-anchor="middle">ns</text>
<g font-size="12" text-anchor="end"><text x="417" y="1025">0</text><text x="417" y="989">20</text><text x="417" y="953">40</text><text x="417" y="917">60</text><text x="417" y="881">80</text><text x="417" y="845">100</text></g>
<text transform="translate(394.5,920) rotate(-90)" font-size="12.5" text-anchor="middle" textLength="200" lengthAdjust="spacingAndGlyphs">Relative fluorescence intensity (%)</text>
<g font-size="11.5" text-anchor="end">
<text transform="translate(457,1034) rotate(-30)">Control</text>
<text transform="translate(509,1032) rotate(-30)">HA MNs</text>
<text transform="translate(560,1032) rotate(-30)">Fe-HA MNs</text>
<g transform="translate(610,1030) rotate(-30)"><text>Fe-Se-HA</text><text x="-8" y="15">MNs</text></g>
<g transform="translate(664,1030) rotate(-30)"><text>Fe-Se-HA</text><text x="-4" y="15">MNs + B</text></g>
</g>
<!-- watermark -->
<text x="530" y="1036" font-size="27" style="fill:#cfcfcf" opacity="0.75" font-family="Noto Sans CJK SC, WenQuanYi Zen Hei, sans-serif" textLength="138" lengthAdjust="spacingAndGlyphs">嘉峪检测网</text>
<text x="537" y="1058" font-size="19" font-style="italic" style="fill:#d4d4d4" opacity="0.75" textLength="136" lengthAdjust="spacingAndGlyphs">AnyTesting.com</text>
</svg>
</body></html>
